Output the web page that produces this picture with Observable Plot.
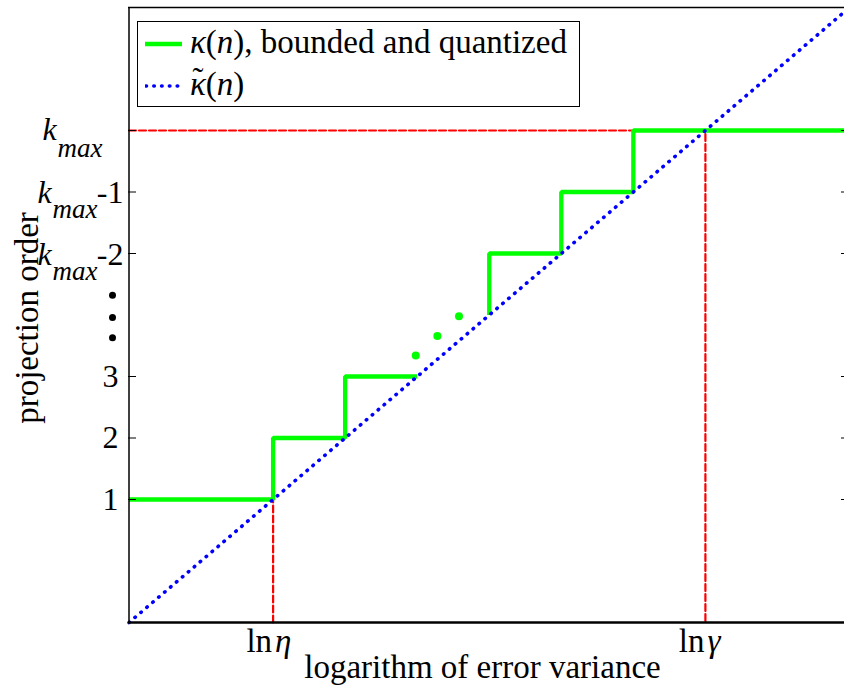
<!DOCTYPE html>
<html>
<head>
<meta charset="utf-8">
<script src="https://cdn.jsdelivr.net/npm/d3@7"></script>
<script src="https://cdn.jsdelivr.net/npm/@observablehq/plot@0.6"></script>
<style>
  html, body { margin: 0; padding: 0; background: #fff; }
  #wrap { position: relative; width: 844px; height: 685px; font-family: "Liberation Serif", "Times New Roman", serif; }
  #legend { position: absolute; left: 137px; top: 21px; width: 441px; height: 84px; border: 1.3px solid #000; background: #fff; font-family: "Liberation Serif", "Times New Roman", serif; font-size: 33px; color: #000; }
  .row { position: absolute; left: 0; white-space: nowrap; }
  .row svg { position: absolute; left: 7px; }
  .row span.t { position: absolute; left: 52px; font-family: "Liberation Serif", "Times New Roman", serif; }
  .tk { position: relative; display: inline-block; font-style: italic; }
  .tk::before { content: "\02DC"; position: absolute; left: 0; right: 0; text-align: center; top: -4px; font-style: normal; }
</style>
</head>
<body>
<div id="wrap"></div>
<script>
// ---- data ----
const xDomain = [-1, 9];
const yDomain = [-1, 9];
const xTickValues = [1, 7];
const xTickPrefix = ["ln", "ln"];
const xTickSymbols = ["η", "γ"];
const yNumTicks = [1, 2, 3];
const yNumLabels = ["1", "2", "3"];
const yKmaxTop = [7];
const yKmaxLower = [5, 6];
const yKmaxSuffix = ["-2", "-1"];
const yAllTicks = [1, 2, 3, 5, 6, 7];
const ellipsisY = [4.32, 3.96, 3.63];
const step1X = [-1, 1, 1, 2, 2, 3];
const step1Y = [1, 1, 2, 2, 3, 3];
const step2X = [4, 4, 5, 5, 6, 6, 9];
const step2Y = [4, 5, 5, 6, 6, 7, 7];
const greenDotX = [2.98, 3.28, 3.58];
const greenDotY = [3.34, 3.66, 3.98];
const diagX = [-1, 9];
const diagY = [-1, 9];
const redGammaX = [-1, 7, 7];
const redGammaY = [7, 7, -1];
const redEtaX = [1, 1];
const redEtaY = [-1, 1];
const xLabel = "logarithm of error variance";
const yLabel = "projection order";

const pts = (xs, ys) => xs.map((x, i) => ({x, y: ys[i]}));
const GREEN = "#00ff00", BLUE = "#0000ff", RED = "#ff0000";
const FONT = 32;
const DOTS = "0.5,7.3";

const chart = Plot.plot({
  width: 844,
  height: 685,
  marginLeft: 128,
  marginRight: 0,
  marginTop: 7,
  marginBottom: 63,
  x: {domain: xDomain, range: [128.5, 849], axis: null},
  y: {domain: yDomain, range: [622, 7], axis: null},
  style: {fontFamily: "Liberation Serif, serif", background: "#fff", color: "#000", overflow: "hidden"},
  marks: [
    // red dashed guides
    Plot.line(pts(redGammaX, redGammaY), {x: "x", y: "y", stroke: RED, strokeWidth: 2.2, strokeDasharray: "7,3"}),
    Plot.line(pts(redEtaX, redEtaY), {x: "x", y: "y", stroke: RED, strokeWidth: 2.2, strokeDasharray: "7,3"}),
    // green quantized steps
    Plot.line(pts(step1X, step1Y), {x: "x", y: "y", stroke: GREEN, strokeWidth: 4.3, strokeLinejoin: "miter", strokeLinecap: "butt"}),
    Plot.line(pts(step2X, step2Y), {x: "x", y: "y", stroke: GREEN, strokeWidth: 4.3, strokeLinejoin: "miter", strokeLinecap: "butt"}),
    Plot.dot(pts(greenDotX, greenDotY), {x: "x", y: "y", r: 4, fill: GREEN}),
    // blue dotted diagonal
    Plot.line(pts(diagX, diagY), {x: "x", y: "y", stroke: BLUE, strokeWidth: 3.6, strokeDasharray: DOTS, strokeLinecap: "round"}),
    // frame
    Plot.ruleY([yDomain[1]], {stroke: "#000", strokeWidth: 1.5}),
    Plot.ruleX([xDomain[0]], {stroke: "#000", strokeWidth: 1.5}),
    Plot.ruleY([yDomain[0]], {stroke: "#000", strokeWidth: 2.5}),
    // inward ticks
    Plot.tickY(yAllTicks, {y: d => d, stroke: "#000", strokeWidth: 1, insetRight: 708}),
    Plot.tickY(yAllTicks, {y: d => d, stroke: "#000", strokeWidth: 1, insetLeft: 713}),
    // y tick labels: numbers
    Plot.text(yNumTicks.map((v, i) => ({v, t: yNumLabels[i]})), {y: "v", text: "t", frameAnchor: "left", dx: -10, textAnchor: "end", fontSize: FONT, fill: "#000"}),
    // k_max labels
    Plot.text(yKmaxTop, {y: d => d, text: () => "k", frameAnchor: "left", dx: -86, dy: 9, textAnchor: "start", lineAnchor: "bottom", fontSize: FONT, fontStyle: "italic", fill: "#000"}),
    Plot.text(yKmaxTop, {y: d => d, text: () => "max", frameAnchor: "left", dx: -71, dy: 26, textAnchor: "start", lineAnchor: "bottom", fontSize: 27, fontStyle: "italic", fill: "#000"}),
    Plot.text(yKmaxLower, {y: d => d, text: () => "k", frameAnchor: "left", dx: -91, dy: 11, textAnchor: "start", lineAnchor: "bottom", fontSize: FONT, fontStyle: "italic", fill: "#000"}),
    Plot.text(yKmaxLower, {y: d => d, text: () => "max", frameAnchor: "left", dx: -76, dy: 26, textAnchor: "start", lineAnchor: "bottom", fontSize: 27, fontStyle: "italic", fill: "#000"}),
    Plot.text(yKmaxLower.map((v, i) => ({v, t: yKmaxSuffix[i]})), {y: "v", text: "t", frameAnchor: "left", dx: -5, dy: 11, textAnchor: "end", lineAnchor: "bottom", fontSize: FONT, fill: "#000"}),
    // vertical ellipsis
    Plot.dot(ellipsisY, {y: d => d, frameAnchor: "left", dx: -16, r: 3.5, fill: "#000"}),
    // x tick labels
    Plot.text(xTickValues.map((v, i) => ({v, t: xTickPrefix[i]})), {x: "v", text: "t", frameAnchor: "bottom", dy: 29, dx: -1, textAnchor: "end", lineAnchor: "bottom", fontSize: 33, fill: "#000"}),
    Plot.text(xTickValues.map((v, i) => ({v, t: xTickSymbols[i]})), {x: "v", text: "t", frameAnchor: "bottom", dy: 29, dx: 2, textAnchor: "start", lineAnchor: "bottom", fontSize: 33, fontStyle: "italic", fill: "#000"}),
    // axis labels
    Plot.text([xLabel], {text: d => d, frameAnchor: "bottom", dx: -4, dy: 55, lineAnchor: "bottom", fontSize: 33, fill: "#000"}),
    Plot.text([yLabel], {text: d => d, frameAnchor: "left", dx: -91, dy: 3, rotate: -90, textAnchor: "middle", lineAnchor: "bottom", fontSize: 33, fill: "#000"})
  ]
});

const wrap = document.getElementById("wrap");
wrap.appendChild(chart);

// legend
const legend = document.createElement("div");
legend.id = "legend";
legend.innerHTML = `
  <div class="row" style="top:0px;height:42px;width:100%">
    <svg width="40" height="42"><line x1="0" x2="37" y1="22" y2="22" stroke="${GREEN}" stroke-width="4.3"/></svg>
    <span class="t" style="top:2px"><i>κ</i>(<i>n</i>), bounded and quantized</span>
  </div>
  <div class="row" style="top:42px;height:42px;width:100%">
    <svg width="40" height="42"><line x1="1" x2="37" y1="22" y2="22" stroke="${BLUE}" stroke-width="3.6" stroke-dasharray="${DOTS}" stroke-linecap="round"/></svg>
    <span class="t" style="top:2px"><span class="tk">κ</span>(<i>n</i>)</span>
  </div>`;
wrap.appendChild(legend);
</script>
</body>
</html>
